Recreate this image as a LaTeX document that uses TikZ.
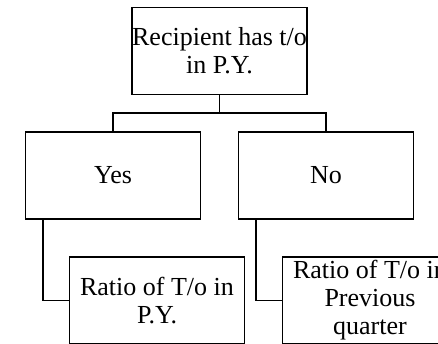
\documentclass[tikz,border=0pt]{standalone}
\usepackage{fontspec}
\setmainfont{Liberation Serif}
\begin{document}
\begin{tikzpicture}[x=1pt,y=1pt,
  box/.style={draw,line width=1.3pt,minimum width=175pt,minimum height=87pt,align=center,inner sep=0pt,font=\fontsize{26}{28}\selectfont},
  conn/.style={line width=1.3pt}]
\useasboundingbox (0,0) rectangle (438,-344);
\clip (0,0) rectangle (438,-344);
\node[box] (top) at (219.5,-51) {Recipient has t/o\\in P.Y.};
\node[box] (yes) at (113,-175.5) {Yes};
\node[box] (no) at (326,-175.5) {No};
\node[box] (r1) at (157,-300.5) {Ratio of T/o in\\P.Y.};
\node[box] (r2) at (370,-300.5) {Ratio of T/o in\\Previous\\quarter};
\coordinate (bar) at ([yshift=-18pt]top.south);
\draw[conn] (top.south) -- (bar) -| (yes.north);
\draw[conn] (bar) -| (no.north);
\draw[conn] ([xshift=18pt]yes.south west) |- (r1.west);
\draw[conn] ([xshift=18pt]no.south west) |- (r2.west);
\end{tikzpicture}
\end{document}
